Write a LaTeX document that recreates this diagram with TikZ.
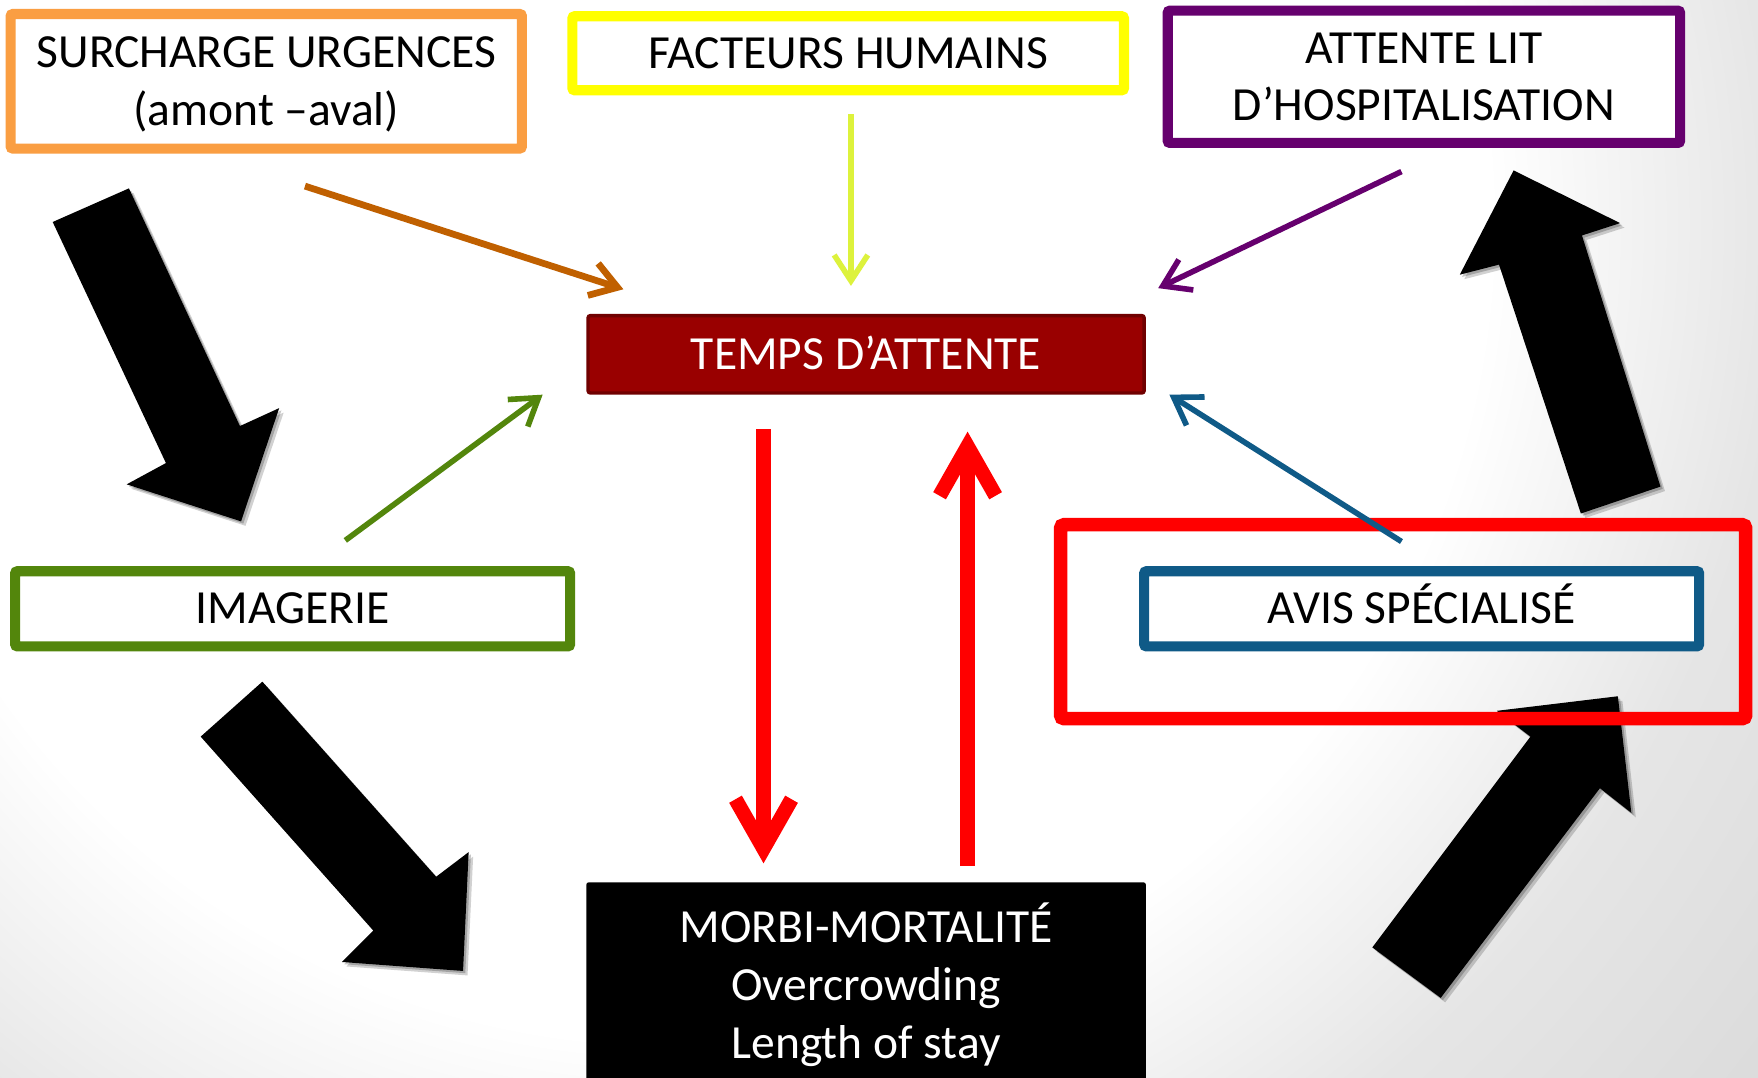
\documentclass[tikz,border=0pt]{standalone}
\usepackage{fontspec}
\setmainfont{Carlito}
\usetikzlibrary{arrows.meta}
\definecolor{cOrange}{RGB}{250,158,66}
\definecolor{cYellow}{RGB}{255,255,0}
\definecolor{cPurple}{RGB}{102,0,110}
\definecolor{cGreen}{RGB}{83,134,12}
\definecolor{cBlue}{RGB}{15,90,135}
\definecolor{cTemps}{RGB}{153,0,0}
\definecolor{cTempsB}{RGB}{112,0,0}
\definecolor{cBrown}{RGB}{192,96,0}
\definecolor{cLime}{RGB}{221,242,60}
\definecolor{cRed}{RGB}{255,0,0}
\pgfdeclareradialshading{bgshade}{\pgfpoint{0bp}{0bp}}{color(0bp)=(white); color(14bp)=(white); color(19bp)=(black!10); color(25bp)=(black!15); color(50bp)=(black!15)}
\newcommand\mybodyfont{\fontsize{42.4pt}{51.5pt}\selectfont}
\newcommand\blkTL[1]{\fill[#1] (47,198) -- (115,168) -- (214,380) -- (249,364) -- (215,465) -- (113,432) -- (148,413) -- cycle;}
\newcommand\blkBL[1]{\fill[#1] (179,657) -- (234,608) -- (389,782) -- (418,760) -- (413,866) -- (305,858) -- (333,830) -- cycle;}
\newcommand\blkTR[1]{\fill[#1] (1410,458) -- (1337,236) -- (1302,245) -- (1350,152) -- (1445,199) -- (1411,210) -- (1481,434) -- cycle;}
\newcommand\blkBR[1]{\fill[#1] (1224,845) -- (1365,657) -- (1335,634) -- (1443,621) -- (1455,725) -- (1427,703) -- (1285,890) -- cycle;}
\tikzset{
  box/.style={rectangle, rounded corners=2pt, fill=white, line width=9pt, inner sep=0pt,
    text height=27pt, text depth=0pt, align=center, font=\mybodyfont},
  thinarr/.style={line width=5pt, -{Straight Barb[length=23pt,width=30pt]}},
  bigarr/.style={line width=13pt, draw=cRed, -{Straight Barb[length=44pt,width=50pt]}},
  shadowA/.style={black, opacity=.18, shift={(4,4)}},
  shadowB/.style={black, opacity=.22, shift={(2,2)}},
}
\begin{document}
\begin{tikzpicture}[x=1pt,y=-1pt]
\useasboundingbox (0,0) rectangle (1568,961);
\begin{scope}
  \clip (0,0) rectangle (1568,961);
  \shade[shading=bgshade] (600,200) circle[radius=1300pt];
\end{scope}

% big black block arrows
\blkTL{shadowA}\blkTL{shadowB}\blkTL{black}
\blkBL{shadowA}\blkBL{shadowB}\blkBL{black}
\blkTR{shadowA}\blkTR{shadowB}\blkTR{black}
\blkBR{shadowA}\blkBR{shadowB}\blkBR{black}

% boxes
\node[box, draw=cOrange, minimum width=456pt, minimum height=120pt, text height=78.5pt, text depth=-1.5pt] (surch) at (237.5,72.5) {SURCHARGE URGENCES\\(amont –aval)};
\node[box, draw=cYellow, minimum width=492pt, minimum height=66pt] (facteurs) at (756.5,47.5) {FACTEURS HUMAINS};
\node[box, draw=cPurple, minimum width=457pt, minimum height=118pt, text height=78.5pt] (attente) at (1270,68.5) {ATTENTE LIT\\D’HOSPITALISATION};
\node[box, draw=cTempsB, fill=cTemps, text=white, line width=3pt, minimum width=496pt, minimum height=69pt] (temps) at (772.5,316) {TEMPS D’ATTENTE};
\node[box, draw=cGreen, minimum width=495pt, minimum height=67pt] (imagerie) at (261,543) {IMAGERIE};
\node[box, draw=cBlue, minimum width=495pt, minimum height=67pt] (avis) at (1268,543) {AVIS SPÉCIALISÉ};
\node[rectangle, rounded corners=3pt, draw=cRed, line width=12pt, minimum width=611pt, minimum height=173pt] (cadre) at (1251.5,554.5) {};
\begin{scope}
  \clip (0,0) rectangle (1568,961);
  \node[box, fill=black, draw=none, text=white, minimum width=499pt, minimum height=188pt, text height=130pt, text depth=4pt] (morbi) at (772.5,881) {MORBI-MORTALITÉ\\Overcrowding\\Length of stay};
\end{scope}

% connector ends
\coordinate (brS) at (272,166);  \coordinate (brE) at (556,258);
\coordinate (ygS) at (759,102);  \coordinate (ygE) at (759,255);
\coordinate (puS) at (1250,153); \coordinate (puE) at (1033,257);
\coordinate (grS) at (308,482);  \coordinate (grE) at (484,352);
\coordinate (blS) at (1250,483); \coordinate (blE) at (1043,352);
\coordinate (rdS) at (681,383);  \coordinate (rdE) at (681,770);
\coordinate (ruS) at (863,772);  \coordinate (ruE) at (863,385);

\draw[thinarr, draw=cBrown, line width=6pt] (brS) -- (brE);
\draw[thinarr, draw=cLime] (ygS) -- (ygE);
\draw[thinarr, draw=cPurple] (puS) -- (puE);
\draw[thinarr, draw=cGreen] (grS) -- (grE);
\draw[thinarr, draw=cBlue] (blS) -- (blE);
\draw[bigarr] (rdS) -- (rdE);
\draw[bigarr] (ruS) -- (ruE);
\end{tikzpicture}
\end{document}
